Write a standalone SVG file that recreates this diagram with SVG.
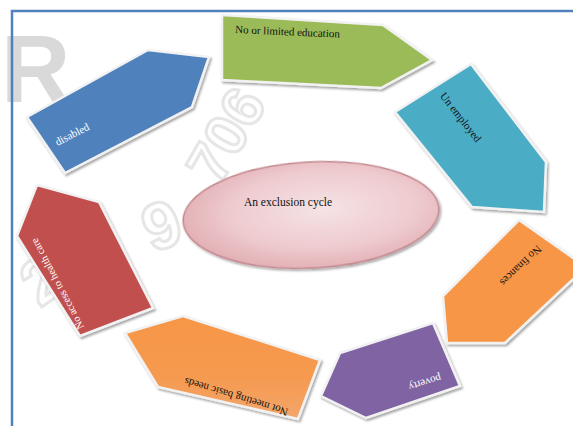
<svg xmlns="http://www.w3.org/2000/svg" width="573" height="426" viewBox="0 0 573 426">
<defs>
<filter id="sh" x="-20%" y="-20%" width="140%" height="140%">
<feDropShadow dx="1.5" dy="2" stdDeviation="1.2" flood-color="#000" flood-opacity="0.35"/>
</filter>
<radialGradient id="eg" cx="0.55" cy="0.45" r="0.6">
<stop offset="0" stop-color="#f5e3e5"/>
<stop offset="0.6" stop-color="#eecbcf"/>
<stop offset="1" stop-color="#e0acb1"/>
</radialGradient>
<linearGradient id="og" x1="0" y1="0" x2="0" y2="1">
<stop offset="0" stop-color="#f79646"/>
<stop offset="0.6" stop-color="#f59a50"/>
<stop offset="1" stop-color="#f3a66a"/>
</linearGradient>
<style>
.shape{stroke:#f2f2f2;stroke-width:2.5;stroke-linejoin:miter;filter:url(#sh)}
.t{font-family:"Liberation Serif","Times New Roman",serif;font-size:11px;text-anchor:middle}
.tw{fill:#ffffff}
.tb{fill:#111111}
.wm{font-family:"Liberation Sans",Arial,sans-serif;font-weight:bold;fill:none;stroke:#e6e6e6;stroke-width:3}
.frame{stroke:#4f81bd;stroke-width:2.5;fill:none}
</style>
</defs>
<rect width="573" height="426" fill="#ffffff"/>
<g id="watermark">
<text x="1" y="102" font-size="96" font-family="Liberation Sans, Arial, sans-serif" font-weight="bold" fill="#d9d9d9">R</text>
<text class="wm" x="0" y="0" font-size="58" transform="translate(226,135) rotate(-60)" text-anchor="middle" dy="20">706</text>
<text class="wm" x="0" y="0" font-size="66" transform="translate(162,226) rotate(-20)" text-anchor="middle" dy="22">9</text>
<text class="wm" x="0" y="0" font-size="64" transform="translate(42,280) rotate(-35)" text-anchor="middle" dy="22">2</text>
</g>
<g id="frame">
<path class="frame" d="M12,426 L12,11 L573,11"/>
</g>
<g id="center">
<ellipse cx="311" cy="215" rx="128" ry="53" transform="rotate(-3 311 215)" fill="url(#eg)" stroke="#c48890" stroke-width="1.5" filter="url(#sh)"/>
<text class="t tb" x="288" y="206" style="font-size:11.5px">An exclusion cycle</text>
</g>
<g id="education">
<polygon class="shape" points="222,15 383,25 432,60 381,88 222,80" fill="#9bbb59"/>
<text class="t tb" x="235" y="33" transform="rotate(2.5 235 33)" style="text-anchor:start">No or limited education</text>
</g>
<g id="unemployed">
<polygon class="shape" points="471,64 546,162 544,212 472,207 395,112" fill="#4bacc6"/>
<text class="t tb" x="461" y="117" dy="4" transform="rotate(52 461 117)">Un employed</text>
</g>
<g id="finances">
<polygon class="shape" points="519,220 586,267 505,343 447,343 443,296" fill="#f79646"/>
<text class="t tb" x="521" y="266" dy="4" transform="rotate(136 521 266)">No finances</text>
</g>
<g id="poverty">
<polygon class="shape" points="340,353 433,323 460,386 366,418 321,396" fill="#8064a2"/>
<text class="t tw" x="425" y="383" dy="4" transform="rotate(163 425 383)">poverty</text>
</g>
<g id="basicneeds">
<polygon class="shape" points="183,316 320,360 298,419 158,387 125,333" fill="url(#og)"/>
<text class="t tb" x="236" y="397" dy="4" transform="rotate(197 236 397)">Not meeting basic needs</text>
</g>
<g id="healthcare">
<polygon class="shape" points="37,185 99,202 153,308 80,336 17,236" fill="#c0504d"/>
<text class="t tw" x="57" y="284" dy="4" transform="rotate(-118 57 284)" style="font-size:10.5px">No access to health care</text>
</g>
<g id="disabled">
<polygon class="shape" points="27,117 148,50 209,57 192,107 65,173" fill="#4f81bd"/>
<text class="t tw" x="72" y="134" dy="4" transform="rotate(-27 72 134)">disabled</text>
</g>
<g id="connectors"></g>
</svg>
